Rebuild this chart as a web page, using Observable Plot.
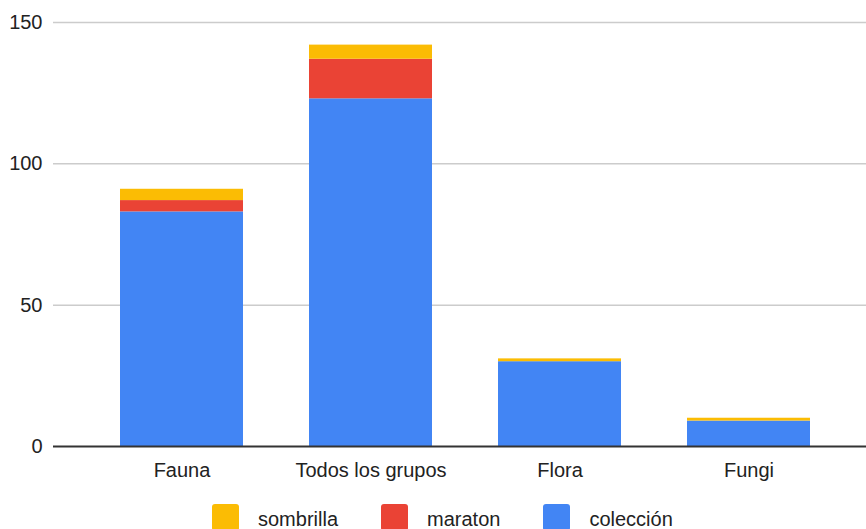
<!DOCTYPE html>
<html>
<head>
<meta charset="utf-8">
<script src="https://cdn.jsdelivr.net/npm/d3@7"></script>
<script src="https://cdn.jsdelivr.net/npm/@observablehq/plot@0.6"></script>
<style>
  html, body { margin: 0; padding: 0; background: #fff; overflow: hidden; }
  body { width: 866px; height: 529px; font-family: "Liberation Sans", Arial, sans-serif; color: #222; }
  #chart svg { display: block; }
  #legend { position: absolute; left: 212px; top: 504px; display: flex; align-items: center; height: 27px; font-size: 20px; color: #222; }
  .sw { width: 27px; height: 27px; border-radius: 3px; margin-right: 19px; }
  .lab { margin-right: 43px; padding-top: 3px; }
</style>
</head>
<body>
<div id="chart"></div>
<div id="legend"></div>
<script>
const categories = ["Fauna", "Todos los grupos", "Flora", "Fungi"];
const seriesNames = ["colección", "maraton", "sombrilla"];
const coleccion = [83, 123, 30, 9];
const maraton = [4, 14, 0, 0];
const sombrilla = [4, 5, 1, 1];
const yTicks = [0, 50, 100, 150];
const colors = {"sombrilla": "#fbbc04", "maraton": "#ea4335", "colección": "#4285f4"};
const legendOrder = ["sombrilla", "maraton", "colección"];

const seriesValues = [coleccion, maraton, sombrilla];
const data = [];
seriesNames.forEach((s, si) => {
  categories.forEach((c, ci) => {
    data.push({category: c, series: s, value: seriesValues[si][ci]});
  });
});

const chart = Plot.plot({
  width: 866,
  height: 490,
  marginLeft: 53,
  marginRight: 0,
  marginTop: 22,
  marginBottom: 44,
  style: {fontFamily: "'Liberation Sans', Arial, sans-serif", fontSize: "20px", color: "#222", background: "#fff"},
  x: {domain: categories, range: [87, 843], paddingInner: 0.35, paddingOuter: 0.175, label: null},
  y: {domain: [0, 150], label: null},
  color: {domain: seriesNames, range: seriesNames.map(s => colors[s])},
  marks: [
    Plot.ruleY(yTicks.filter(d => d > 0), {stroke: "#cccccc", strokeWidth: 1.5}),
    Plot.barY(data, {x: "category", y: "value", fill: "series", order: seriesNames}),
    Plot.ruleY([0], {stroke: "#333", strokeWidth: 2}),
    Plot.axisY({ticks: yTicks, tickSize: 0, tickPadding: 11, label: null, fontSize: 20}),
    Plot.axisX({tickSize: 0, tickPadding: 16, label: null, fontSize: 20})
  ]
});
document.getElementById("chart").appendChild(chart);

const legend = document.getElementById("legend");
legendOrder.forEach(s => {
  const sw = document.createElement("div");
  sw.className = "sw";
  sw.style.background = colors[s];
  const lab = document.createElement("div");
  lab.className = "lab";
  lab.textContent = s;
  legend.appendChild(sw);
  legend.appendChild(lab);
});
</script>
</body>
</html>
